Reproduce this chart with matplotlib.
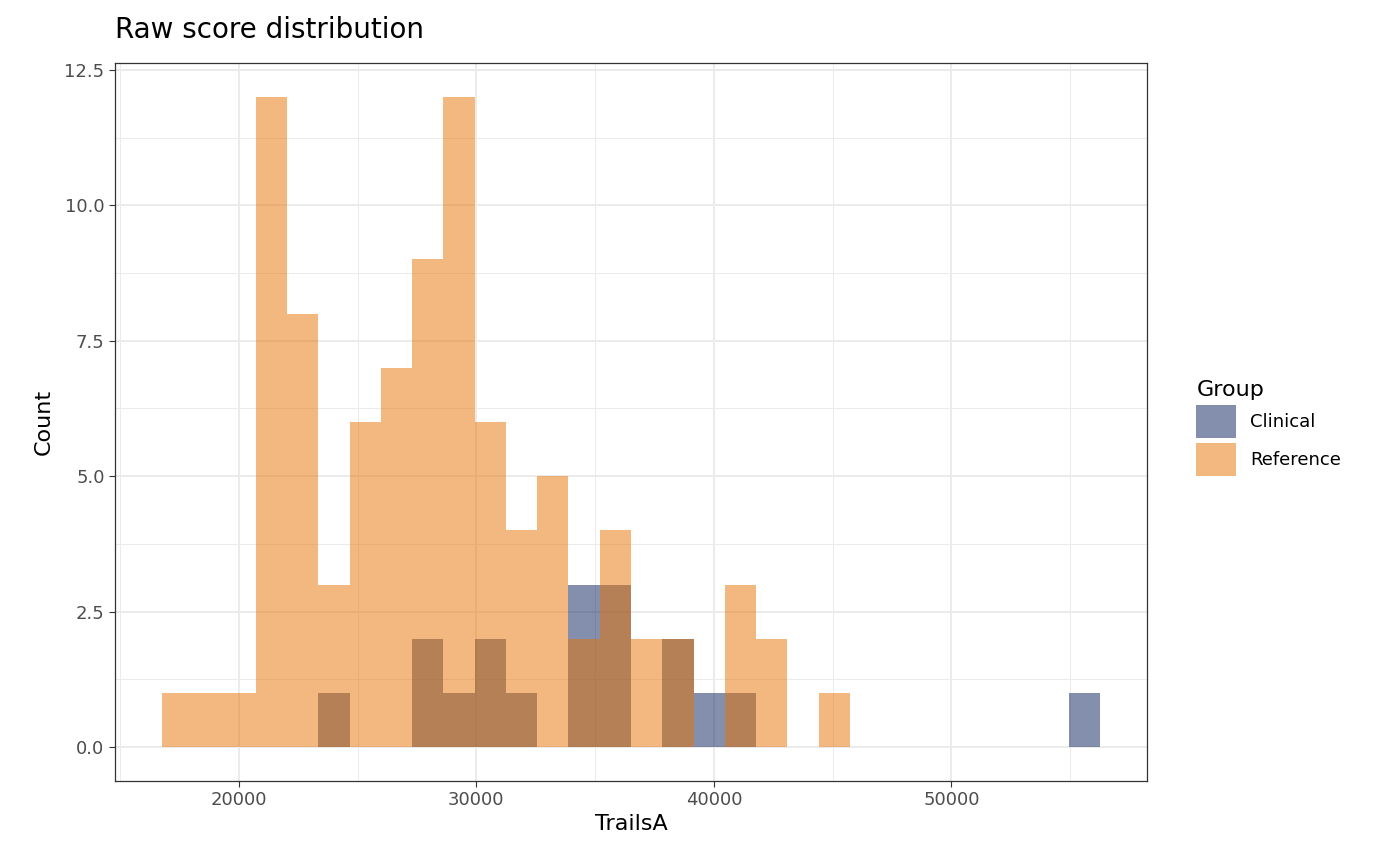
import matplotlib.pyplot as plt
import matplotlib.patches as mpatches
import numpy as np

# 30 bins of equal width
bin_start = 16765.0
bin_width = 1316.5
n_bins = 30
reference_counts = [1, 1, 1, 12, 8, 3, 6, 7, 9, 12, 6, 4, 5, 2, 4, 2, 2, 0, 3, 2,
                    0, 1, 0, 0, 0, 0, 0, 0, 0, 0]
clinical_counts = [0, 0, 0, 0, 0, 1, 0, 0, 2, 1, 2, 1, 0, 3, 3, 0, 2, 1, 1, 0,
                   0, 0, 0, 0, 0, 0, 0, 0, 0, 1]
groups = ["Clinical", "Reference"]
colors = {"Clinical": "#0B215D", "Reference": "#E77300"}

edges = bin_start + bin_width * np.arange(n_bins)

fig = plt.figure(figsize=(14, 8.66), dpi=100)
ax = fig.add_axes([115 / 1400, 1 - 781 / 866, (1147 - 115) / 1400, (781 - 63) / 866])

ax.bar(edges, clinical_counts, width=bin_width, align="edge",
       color=colors["Clinical"], alpha=0.5, linewidth=0, zorder=3)
ax.bar(edges, reference_counts, width=bin_width, align="edge",
       color=colors["Reference"], alpha=0.5, linewidth=0, zorder=3)

ax.set_xlim(14790, 58235)
ax.set_ylim(-0.625, 12.625)
ax.set_xticks([20000, 30000, 40000, 50000])
ax.set_yticks([0, 2.5, 5, 7.5, 10, 12.5])
ax.set_yticklabels(["0.0", "2.5", "5.0", "7.5", "10.0", "12.5"])
ax.set_xticks([15000, 25000, 35000, 45000, 55000], minor=True)
ax.set_yticks([1.25, 3.75, 6.25, 8.75, 11.25], minor=True)
ax.grid(which="major", color="#EBEBEB", linewidth=1.4, zorder=0)
ax.grid(which="minor", color="#EBEBEB", linewidth=0.7, zorder=0)
ax.tick_params(which="major", length=4, color="#333333", labelsize=13, labelcolor="#4D4D4D")
ax.tick_params(which="minor", length=0)
for s in ax.spines.values():
    s.set_color("#333333")
    s.set_linewidth(0.9)

ax.set_xlabel("TrailsA", fontsize=16, labelpad=3)
ax.set_ylabel("Count", fontsize=16, labelpad=8)
fig.text(115 / 1400, 1 - 30 / 866, "Raw score distribution", fontsize=20, va="center")

handles = [mpatches.Patch(facecolor=colors[g], alpha=0.5, linewidth=0, label=g) for g in groups]
leg = fig.legend(handles=handles, title="Group", loc="center left",
                 bbox_to_anchor=(1180 / 1400, 1 - 428 / 866), frameon=False,
                 fontsize=13, title_fontsize=16, handlelength=2.2, handleheight=2.4,
                 labelspacing=0.3)
leg._legend_box.align = "left"

fig.savefig("out.png", dpi=100)
